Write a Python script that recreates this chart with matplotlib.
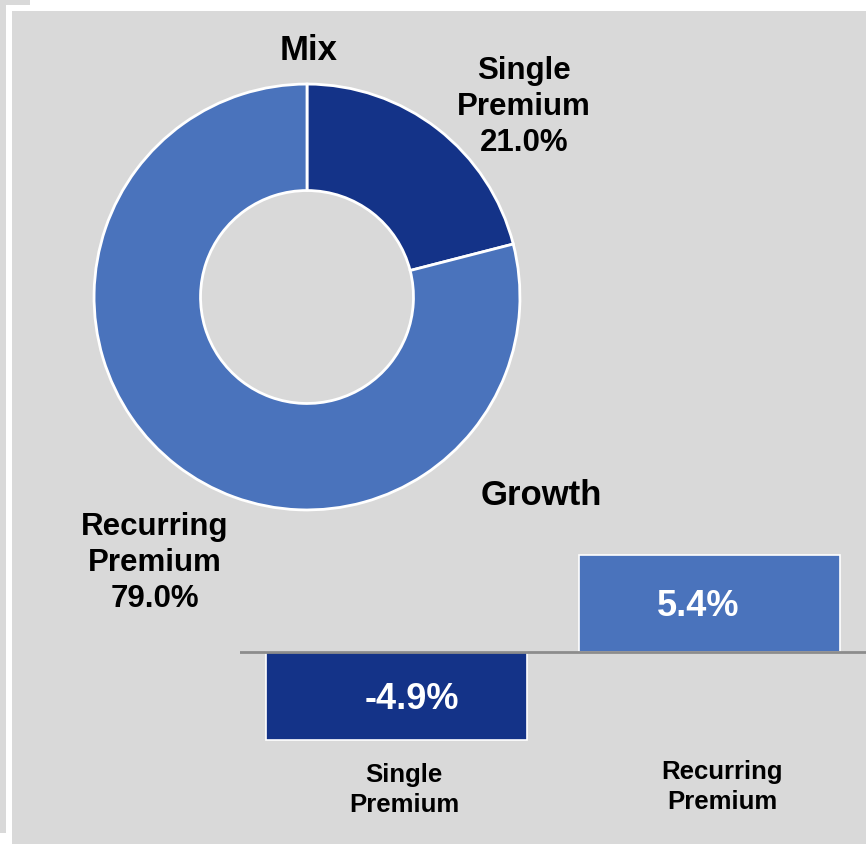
import matplotlib.pyplot as plt
from matplotlib.patches import Rectangle

plt.rcParams['font.family'] = ['Liberation Sans', 'DejaVu Sans']
plt.rcParams['font.weight'] = 'bold'

W, H = 866, 844
BG = "#d9d9d9"
DARK = "#143388"
LIGHT = "#4a73bc"

# premium mix (share of total, %)
mix_labels = ["Single\nPremium", "Recurring\nPremium"]
mix_share = [21.0, 79.0]
mix_colors = [DARK, LIGHT]

# premium growth (%)
growth_labels = ["Single\nPremium", "Recurring\nPremium"]
growth_values = [-4.9, 5.4]
growth_colors = [DARK, LIGHT]


def px_box(x0, y0, x1, y1):
    # pixel box (top-left origin) -> figure fraction [left, bottom, width, height]
    return [x0 / W, 1 - y1 / H, (x1 - x0) / W, (y1 - y0) / H]


fig = plt.figure(figsize=(W / 100, H / 100), dpi=100, facecolor="white")

# grey panels behind everything
for x0, y0, x1, y1 in [(12, 11, 866, 844), (0, 0, 6, 833), (0, 0, 30, 5)]:
    l, b, w, h = px_box(x0, y0, x1, y1)
    fig.patches.append(Rectangle((l, b), w, h, transform=fig.transFigure,
                                 facecolor=BG, edgecolor="none", zorder=-5))

# --- donut ---
ax_pie = fig.add_axes(px_box(93, 83, 521, 511))
ax_pie.pie(mix_share, colors=mix_colors, startangle=90, counterclock=False,
           radius=1.0, wedgeprops=dict(width=0.5, edgecolor="white", linewidth=2))
ax_pie.set_xlim(-1.005, 1.005)
ax_pie.set_ylim(-1.005, 1.005)
ax_pie.set_aspect("equal")
ax_pie.axis("off")

fig.text(309 / W, 1 - 50 / H, "Mix", ha="center", va="center", fontsize=25)
fig.text(524 / W, 1 - 107 / H, f"{mix_labels[0]}\n{mix_share[0]:.1f}%",
         ha="center", va="center", fontsize=22.5, linespacing=1.24)
fig.text(155 / W, 1 - 563 / H, f"{mix_labels[1]}\n{mix_share[1]:.1f}%",
         ha="center", va="center", fontsize=22.5, linespacing=1.24)

# --- growth bars ---
ax_bar = fig.add_axes(px_box(240, 544, 866, 760))
ax_bar.set_facecolor("none")
x = range(len(growth_values))
ax_bar.bar(x, growth_values, width=0.834, color=growth_colors,
           edgecolor="white", linewidth=1.2)
ax_bar.axhline(0, color="#8c8c8c", linewidth=2, zorder=3)
ax_bar.set_xlim(-0.5, 1.5)
ax_bar.set_ylim(-6, 6)
ax_bar.axis("off")

# value labels sit a little off-centre inside each bar
label_dx = [0.05, -0.035]
for i, v in enumerate(growth_values):
    ax_bar.text(i + label_dx[i], v / 2 - 0.2, f"{v:.1f}%", ha="center",
                va="center", color="white", fontsize=26)
    ax_bar.text(i + 0.025 + 0.015 * i, -7.65 + 0.15 * i, growth_labels[i],
                ha="center", va="center", fontsize=18.5, linespacing=1.3)

fig.text(541 / W, 1 - 496 / H, "Growth", ha="center", va="center", fontsize=25)

fig.savefig("out.png", dpi=100, facecolor="white")
